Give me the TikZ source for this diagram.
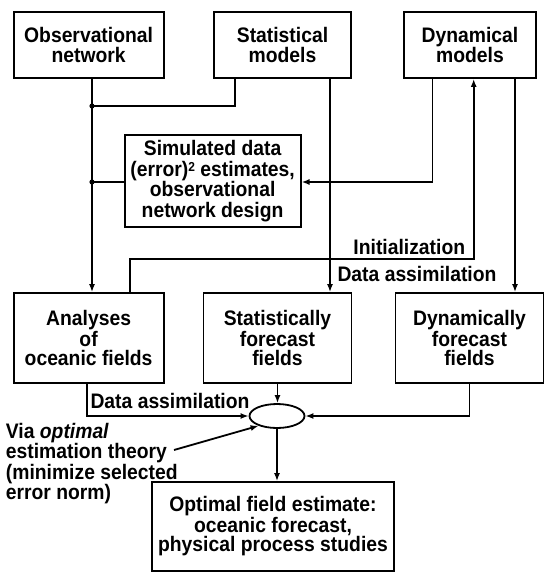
\documentclass[tikz,border=0pt]{standalone}
\usepackage{fontspec}
\setmainfont{Liberation Sans}[FakeStretch=0.92]
\usetikzlibrary{shapes, positioning, arrows.meta}

\tikzset{
  box/.style={draw, line width=1.8pt, align=center, inner sep=3pt, font=\bfseries\fontsize{21}{19.5}\selectfont},
  lbl/.style={inner sep=1pt, font=\bfseries\fontsize{21}{19.5}\selectfont},
  >={Latex[length=8pt,width=6pt]}
}
\newcommand{\sqidx}{\raisebox{0.22em}{\fontsize{13}{13}\selectfont 2}}

\begin{document}
\begin{tikzpicture}[x=1pt, y=-1pt, line width=1.8pt]
        \useasboundingbox (0,0) rectangle (549,574);

        \node[box, minimum width=150pt, minimum height=66pt] (obs) at (88.6,45) {Observational\\network};
        \node[box, minimum width=137pt, minimum height=66pt] (stat) at (282.5,45) {Statistical\\models};
        \node[box, minimum width=132pt, minimum height=66pt] (dyn) at (470,45) {Dynamical\\models};
        \node[box, minimum width=176pt, minimum height=92pt, font=\bfseries\fontsize{21}{20.5}\selectfont] (sim) at (212.6,181) {Simulated data\\(error)\sqidx\ estimates,\\observational\\network design};
        \node[box, minimum width=150pt, minimum height=90pt] (ana) at (88.6,338) {Analyses\\of\\oceanic fields};
        \node[box, minimum width=148pt, minimum height=90pt] (sfor) at (277.5,338) {Statistically\\forecast\\fields};
        \node[box, minimum width=148pt, minimum height=90pt] (dfor) at (469.5,338) {Dynamically\\forecast\\fields};
        \node[draw, ellipse, minimum width=55pt, minimum height=24pt, inner sep=0pt] (ell) at (277,416) {};
        \node[box, minimum width=242pt, minimum height=89pt] (opt) at (273,526.5) {Optimal field estimate:\\oceanic forecast,\\physical process studies};

        \node[lbl, anchor=east] (initlbl) at (467,247) {Initialization};
        \node[lbl] (dalbl) at (417,274) {Data assimilation};
        \node[lbl] (dalow) at (170,401) {Data assimilation};
        \node[lbl, align=left, anchor=north west] (note) at (4,421) {\bfseries Via \textit{optimal}\\estimation theory\\(minimize selected\\error norm)};

        \coordinate (j1) at (92,106);
        \coordinate (j2) at (92,182);
        \coordinate (turn) at (473.7,259);
        \coordinate (notetip) at (174,450);

        \draw[->] (obs.south -| j1) -- (ana.north -| j1);
        \draw ([xshift=-47.5pt]stat.south) |- (j1);
        \draw (j2) -- (sim.west |- j2);
        \fill (j1) circle (2.6pt);
        \fill (j2) circle (2.6pt);
        \draw[->] ([xshift=47.5pt]stat.south) -- ([xshift=47.5pt]stat.south |- sfor.north);
        \draw[->] ([xshift=-37.5pt]dyn.south) |- (sim.east |- j2);
        \draw[->] ([xshift=41.4pt]ana.north) |- (turn) -- (turn |- dyn.south);
        \draw[->] ([xshift=45pt]dyn.south) -- ([xshift=45pt]dyn.south |- dfor.north);

        \draw[->] (sfor.south) -- (sfor.south |- ell.north);
        \draw[->] ([xshift=-2pt]ana.south) |- (ell.west);
        \draw[->] (dfor.south) |- (ell.east);
        \draw[->] (notetip) -- (ell.208);
        \draw[->] (ell.south) -- (ell.south |- opt.north);
      \end{tikzpicture}
\end{document}
